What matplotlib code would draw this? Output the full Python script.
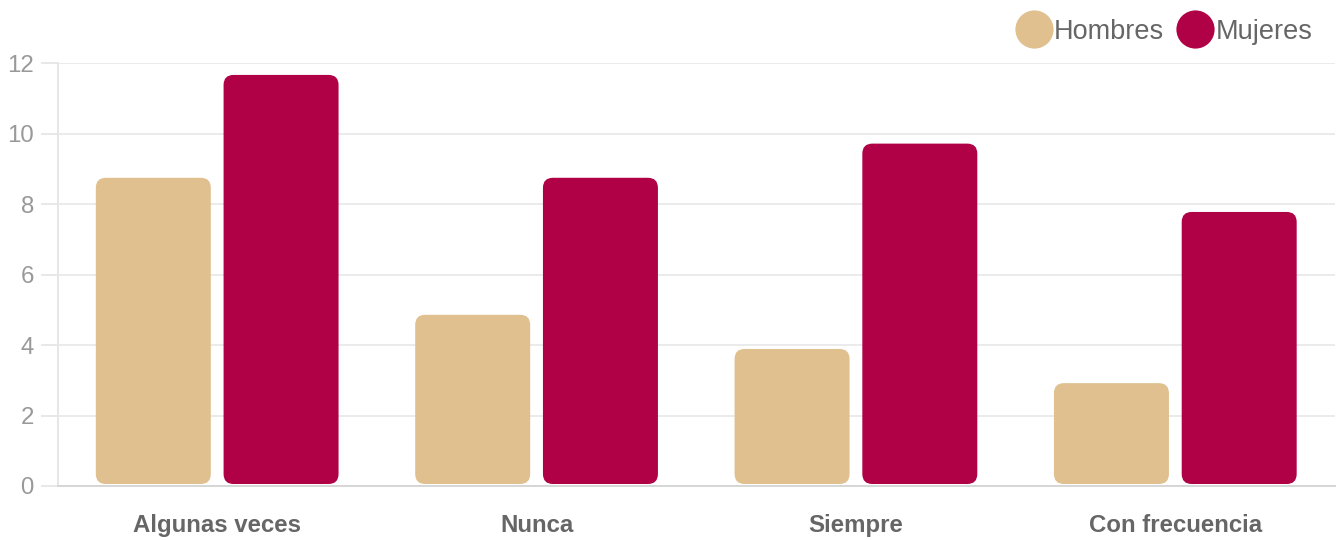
import matplotlib
matplotlib.use('Agg')
import matplotlib.pyplot as plt
from matplotlib.patches import FancyBboxPatch
from matplotlib.lines import Line2D
import numpy as np

plt.rcParams['font.family'] = ['Liberation Sans', 'DejaVu Sans']

categorias = ['Algunas veces', 'Nunca', 'Siempre', 'Con frecuencia']
hombres = [8.75, 4.86, 3.89, 2.92]
mujeres = [11.67, 8.75, 9.72, 7.78]
series = ['Hombres', 'Mujeres']
colores = ['#DFC08E', '#B00046']

W, H, DPI = 1336, 540, 100
fig = plt.figure(figsize=(W / DPI, H / DPI), dpi=DPI)
left, right = 57.5 / W, 1335 / W
bottom, top = 1 - 486 / H, 1 - 63.3 / H
ax = fig.add_axes([left, bottom, right - left, top - bottom])

ax.set_xlim(-0.5, 3.5)
ax.set_ylim(0, 12)

x = np.arange(len(categorias))
ancho = 0.36
# tamaño del píxel en unidades de datos, para redondear las esquinas
px_x = 4 / ((right - left) * W)
px_y = 12 / ((top - bottom) * H)
radio = 10 * px_x
aspecto = px_y / px_x

for vals, off, col in [(hombres, -0.2, colores[0]), (mujeres, 0.2, colores[1])]:
    barras = ax.bar(x + off, vals, ancho, color=col)
    for b in barras:
        b.set_visible(False)
        p = FancyBboxPatch((b.get_x(), 2 * px_y), b.get_width(), b.get_height() - 2 * px_y,
                           boxstyle=f"round,pad=0,rounding_size={radio}",
                           mutation_aspect=aspecto, fc=col, ec='none', zorder=3)
        ax.add_patch(p)

ax.set_yticks(range(0, 13, 2))
ax.set_xticks(x)
ax.set_xticklabels(categorias, fontsize=17.3, fontweight='bold', color='#666666')
ax.tick_params(axis='x', length=0, pad=20)
ax.tick_params(axis='y', length=12, width=1.4, color='#e8e8e8', pad=5,
               labelsize=17.3, labelcolor='#999999')
ax.grid(axis='y', color='#ebebeb', lw=1.4, zorder=0)
ax.set_axisbelow(True)

for s in ['top', 'right']:
    ax.spines[s].set_visible(False)
ax.spines['left'].set_color('#e6e6e6')
ax.spines['left'].set_linewidth(1.4)
ax.spines['bottom'].set_color('#d6d6d6')
ax.spines['bottom'].set_linewidth(1.4)

handles = [Line2D([], [], ls='none', marker='o', markersize=27.5, markerfacecolor=c,
                  markeredgecolor='none') for c in colores]
fig.legend(handles, series, loc='upper right', bbox_to_anchor=(1326 / W, 1 - 5 / H),
           ncol=2, frameon=False, fontsize=19.5, labelcolor='#666666',
           handlelength=1.1, handletextpad=0.2, columnspacing=0.6, borderpad=0)

fig.savefig('out.png', dpi=DPI)
